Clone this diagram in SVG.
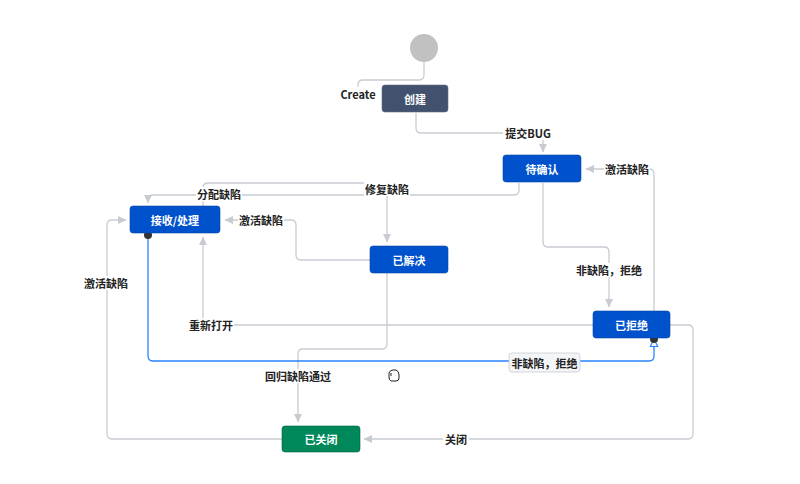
<svg xmlns="http://www.w3.org/2000/svg" width="800" height="484" viewBox="0 0 800 484">
<defs>
<style>
.node rect{fill:#0052cc;stroke:#0747a6;stroke-width:0.6}
.node text{fill:#fff;font-family:"Noto Sans CJK SC","Liberation Sans",sans-serif;font-size:11px;font-weight:bold;text-anchor:middle;dominant-baseline:central}
.conn{fill:none;stroke:#c8ccd2;stroke-width:1.3}
.lbl rect{fill:#fff}
.lbl text{fill:#222;font-family:"Noto Sans CJK SC","Liberation Sans",sans-serif;font-size:11px;font-weight:bold;text-anchor:middle;dominant-baseline:central}
</style>
<marker id="ar" markerUnits="userSpaceOnUse" markerWidth="9" markerHeight="9" refX="8" refY="4.5" orient="auto" viewBox="0 0 9 9">
<path d="M0,0.5 L8.5,4.5 L0,8.5 z" fill="#c8ccd2"/>
</marker>
<marker id="arb" markerUnits="userSpaceOnUse" markerWidth="10" markerHeight="10" refX="8" refY="4.5" orient="auto" viewBox="0 0 10 9">
<path d="M0.5,0.8 L8,4.5 L0.5,8.2 z" fill="#fff" stroke="#2684ff" stroke-width="1.2"/>
</marker>
</defs>
<rect width="800" height="484" fill="#fff"/>
<g id="connectors">
<path class="conn" d="M424,62 V75 Q424,80 419,80 H363 Q358,80 358,85 V94"/>
<path class="conn" d="M416,113 V128 Q416,133 421,133 H538 Q543,133 543,138 V152" marker-end="url(#ar)"/>
<path class="conn" d="M519,183 V190 Q519,195 514,195 H153 Q148,195 148,200 V203" marker-end="url(#ar)"/>
<path class="conn" d="M203,206 V188 Q203,183 208,183 H382 Q387,183 387,188 V242" marker-end="url(#ar)"/>
<path class="conn" d="M370,260 H301 Q296,260 296,255 V225 Q296,220 291,220 H225" marker-end="url(#ar)"/>
<path class="conn" d="M593,325 H208 Q203,325 203,320 V237" marker-end="url(#ar)"/>
<path class="conn" d="M387,273 V344 Q387,349 382,349 H303 Q298,349 298,354 V422" marker-end="url(#ar)"/>
<path class="conn" d="M543,183 V242 Q543,247 548,247 H604 Q609,247 609,252 V307" marker-end="url(#ar)"/>
<path class="conn" d="M654,311 V174 Q654,169 649,169 H586" marker-end="url(#ar)"/>
<path class="conn" d="M670,325 H688 Q693,325 693,330 V434 Q693,439 688,439 H364" marker-end="url(#ar)"/>
<path class="conn" d="M282,439 H112 Q107,439 107,434 V225 Q107,220 112,220 H126" marker-end="url(#ar)"/>
<path d="M148,235 V356 Q148,361 153,361 H649 Q654,361 654,356 V339" fill="none" stroke="#2684ff" stroke-width="1.3" marker-end="url(#arb)"/>
<circle cx="148" cy="235" r="4" fill="#333"/>
<circle cx="654" cy="339" r="4" fill="#333"/>
<g class="lbl"><rect x="339" y="87" width="38" height="14"/><text x="358" y="94">Create</text></g>
<g class="lbl"><rect x="503" y="126" width="50" height="14"/><text x="528" y="133">提交BUG</text></g>
<g class="lbl"><rect x="196" y="187" width="46" height="14"/><text x="219" y="194">分配缺陷</text></g>
<g class="lbl"><rect x="364" y="182" width="46" height="14"/><text x="387" y="189">修复缺陷</text></g>
<g class="lbl"><rect x="238" y="213" width="46" height="14"/><text x="261" y="220">激活缺陷</text></g>
<g class="lbl"><rect x="188" y="318" width="46" height="14"/><text x="211" y="325">重新打开</text></g>
<g class="lbl"><rect x="265" y="369" width="67" height="14"/><text x="298" y="376">回归缺陷通过</text></g>
<g class="lbl"><rect x="575" y="263" width="68" height="14"/><text x="609" y="270">非缺陷，拒绝</text></g>
<g class="lbl"><rect x="604" y="162" width="46" height="14"/><text x="627" y="169">激活缺陷</text></g>
<g class="lbl"><rect x="443" y="432" width="26" height="14"/><text x="456" y="439">关闭</text></g>
<g class="lbl"><rect x="83" y="276" width="46" height="14"/><text x="106" y="283">激活缺陷</text></g>
<g class="lbl"><rect x="509" y="353" width="71" height="19" rx="3" style="fill:#f4f5f7;stroke:#c8ccd2;stroke-width:0.8"/><text x="544.5" y="362.5">非缺陷，拒绝</text></g>
</g>
<g id="start"><circle cx="424" cy="48" r="14" fill="#c1c1c1"/></g>
<g id="n-create" class="node"><rect x="382" y="85" width="66" height="27" rx="3" style="fill:#42526e;stroke:#5e6c84"/><text x="415" y="98.5">创建</text></g>
<g id="n-pending" class="node"><rect x="503" y="155" width="78" height="27" rx="3"/><text x="542" y="168.5">待确认</text></g>
<g id="n-accept" class="node"><rect x="130" y="206" width="90" height="27" rx="3"/><text x="175" y="219.5">接收/处理</text></g>
<g id="n-resolved" class="node"><rect x="370" y="246" width="78" height="27" rx="3"/><text x="409" y="259.5">已解决</text></g>
<g id="n-rejected" class="node"><rect x="593" y="311" width="77" height="27" rx="3"/><text x="631.5" y="324.5">已拒绝</text></g>
<g id="n-closed" class="node"><rect x="282" y="426" width="78" height="26" rx="3" style="fill:#00875a;stroke:#006644"/><text x="321" y="439">已关闭</text></g>
<path d="M389,373 Q390,370 393,370 L396,370 Q399,371 399,375 L399,378 Q399,381 396,381 L391,381 Q389,380 389,377 Z M391,373 L391,376" fill="#fff" stroke="#222" stroke-width="1"/>
</svg>
